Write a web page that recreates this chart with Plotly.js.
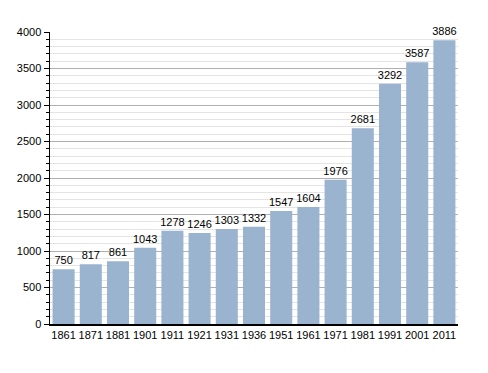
<!DOCTYPE html>
<html><head><meta charset="utf-8">
<script src="https://cdn.plot.ly/plotly-3.0.1.min.js"></script>
<style>html,body{margin:0;padding:0;background:#fff;}#chart{width:488px;height:373px;}</style>
</head><body><div id="chart"></div>
<script>
var years = ["1861","1871","1881","1901","1911","1921","1931","1936","1951","1961","1971","1981","1991","2001","2011"];
var population = [750,817,861,1043,1278,1246,1303,1332,1547,1604,1976,2681,3292,3587,3886];
var yTicks = [0,500,1000,1500,2000,2500,3000,3500,4000];

var trace = {
  type: 'bar', x: years, y: population,
  text: population.map(String), textposition: 'outside', cliponaxis: false,
  constraintext: 'none',
  textfont: {family: 'Liberation Sans, Arial, sans-serif', size: 11, color: '#000'},
  marker: {color: '#9ab3cf', line: {width: 0}},
  hoverinfo: 'none'
};
var layout = {
  width: 488, height: 373,
  margin: {l: 50, r: 30, t: 32, b: 49},
  paper_bgcolor: '#fff', plot_bgcolor: '#fff',
  bargap: 0.19,
  showlegend: false,
  font: {family: 'Liberation Sans, Arial, sans-serif', size: 11, color: '#000'},
  xaxis: {type: 'category', showline: true, linecolor: '#000', linewidth: 1.5,
          ticks: '', showgrid: false, tickfont: {size: 11}},
  yaxis: {range: [0, 4000], tickvals: yTicks, ticktext: yTicks.map(String),
          showline: true, linecolor: '#000', linewidth: 1.5,
          ticks: 'outside', ticklen: 5, tickcolor: '#000',
          showgrid: true, gridcolor: '#b0b0b0', gridwidth: 1, zeroline: false,
          minor: {dtick: 100, tick0: 0, ticks: 'outside', ticklen: 3, tickcolor: '#000',
                  showgrid: true, gridcolor: '#e4e4e4', gridwidth: 1},
          tickfont: {size: 11}}
};
Plotly.newPlot('chart', [trace], layout, {displayModeBar: false, staticPlot: true});
</script></body></html>
